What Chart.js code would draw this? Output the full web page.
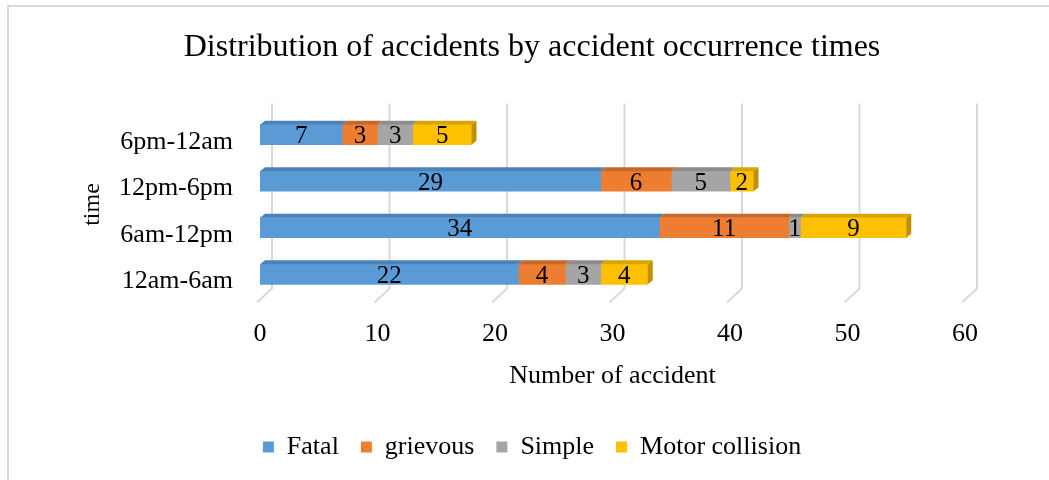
<!DOCTYPE html>
<html>
<head>
<meta charset="utf-8">
<script src="https://cdn.jsdelivr.net/npm/chart.js@4/dist/chart.umd.min.js"></script>
<style>
    html, body { margin: 0; padding: 0; background: #fff; }
    #wrap { position: relative; width: 1049px; height: 480px; overflow: hidden; }
    #frame {
        position: absolute; left: 7px; top: 5px; width: 1100px; height: 500px;
        border-left: 2px solid #d9d9d9; border-top: 2px solid #d9d9d9;
    }
    #chart { position: absolute; left: 0; top: 0; }
</style>
</head>
<body>
<div id="wrap">
    <div id="frame"></div>
    <canvas id="chart" width="1049" height="480"></canvas>
</div>
<script>
// Data
const timeSlots = ['6pm-12am', '12pm-6pm', '6am-12pm', '12am-6am'];
const fatal = [7, 29, 34, 22];
const grievous = [3, 6, 11, 4];
const simple = [3, 5, 1, 3];
const motorCollision = [5, 2, 9, 4];
const xTicks = [0, 10, 20, 30, 40, 50, 60];

const serif = "'Liberation Serif', 'Times New Roman', serif";
Chart.defaults.font.family = serif;
Chart.defaults.color = '#000';

// front / top / side colours for the fake 3D look
const shades = [
    { front: '#5b9bd5', top: '#4a82b9', side: '#3f6f9e' },
    { front: '#ed7d31', top: '#c8672a', side: '#a85622' },
    { front: '#a5a5a5', top: '#8c8c8c', side: '#777777' },
    { front: '#ffc000', top: '#d9a300', side: '#bf9000' }
];

// Back wall gridlines with the floor diagonal
const gridPlugin = {
    id: 'grid3d',
    beforeDatasetsDraw(chart) {
        const { ctx, chartArea, scales } = chart;
        ctx.save();
        ctx.strokeStyle = '#d9d9d9';
        ctx.lineWidth = 2;
        xTicks.forEach(v => {
            const px = scales.x.getPixelForValue(v);
            ctx.beginPath();
            ctx.moveTo(px + 12, chartArea.top - 8);
            ctx.lineTo(px + 12, chartArea.bottom - 9);
            ctx.lineTo(px - 3, chartArea.bottom + 5);
            ctx.stroke();
        });
        ctx.restore();
    }
};

// Top and side faces plus value labels
const faces3d = {
    id: 'faces3d',
    afterDatasetsDraw(chart) {
        const { ctx } = chart;
        const dx = 5, dy = 4;
        const count = chart.data.datasets.length;
        ctx.save();
        chart.data.datasets.forEach((ds, i) => {
            const meta = chart.getDatasetMeta(i);
            meta.data.forEach((bar, j) => {
                const x0 = bar.base, x1 = bar.x;
                const yTop = bar.y - bar.height / 2, yBot = bar.y + bar.height / 2;
                ctx.fillStyle = shades[i].top;
                ctx.beginPath();
                ctx.moveTo(x0, yTop);
                ctx.lineTo(x0 + dx, yTop - dy);
                ctx.lineTo(x1 + dx, yTop - dy);
                ctx.lineTo(x1, yTop);
                ctx.closePath();
                ctx.fill();

                // right side only on the last segment of the stack
                let last = true;
                for (let k = i + 1; k < count; k++) {
                    if (chart.data.datasets[k].data[j] > 0) last = false;
                }
                if (last) {
                    ctx.fillStyle = shades[i].side;
                    ctx.beginPath();
                    ctx.moveTo(x1, yTop);
                    ctx.lineTo(x1 + dx, yTop - dy);
                    ctx.lineTo(x1 + dx, yBot - dy);
                    ctx.lineTo(x1, yBot);
                    ctx.closePath();
                    ctx.fill();
                }
            });
        });

        ctx.fillStyle = '#000';
        ctx.font = '25px ' + serif;
        ctx.textAlign = 'center';
        ctx.textBaseline = 'middle';
        chart.data.datasets.forEach((ds, i) => {
            const meta = chart.getDatasetMeta(i);
            meta.data.forEach((bar, j) => {
                ctx.fillText(String(ds.data[j]), (bar.base + bar.x) / 2, bar.y + 2);
            });
        });
        ctx.restore();
    }
};

const seriesNames = ['Fatal', 'grievous', 'Simple', 'Motor collision'];
const seriesData = [fatal, grievous, simple, motorCollision];

new Chart(document.getElementById('chart'), {
    type: 'bar',
    data: {
        labels: timeSlots,
        datasets: seriesData.map((d, i) => ({
            label: seriesNames[i],
            data: d,
            backgroundColor: shades[i].front,
            borderWidth: 0,
            barThickness: 20
        }))
    },
    options: {
        indexAxis: 'y',
        responsive: false,
        animation: false,
        layout: { padding: { left: 74, right: 59, top: 0, bottom: 10 } },
        scales: {
            x: {
                stacked: true,
                min: 0,
                max: 60,
                ticks: {
                    stepSize: 10,
                    padding: 21,
                    color: '#000',
                    font: { family: serif, size: 26 }
                },
                grid: { display: false, drawTicks: false },
                border: { display: false },
                title: {
                    display: true,
                    text: 'Number of accident',
                    color: '#000',
                    font: { family: serif, size: 26 },
                    padding: { top: -10, bottom: 20 }
                }
            },
            y: {
                stacked: true,
                ticks: {
                    padding: 27,
                    labelOffset: 7,
                    color: '#000',
                    font: { family: serif, size: 26 }
                },
                grid: { display: false, drawTicks: false },
                border: { display: false },
                title: {
                    display: true,
                    text: 'time',
                    color: '#000',
                    font: { family: serif, size: 24 },
                    padding: 4
                },
                afterFit(scale) {
                    scale.width = 186;
                }
            },
            // empty right-hand spacer so the plot ends at 60 where the reference does
            yRight: {
                type: 'category',
                position: 'right',
                ticks: { display: false },
                grid: { display: false, drawTicks: false },
                border: { display: false },
                afterFit(scale) {
                    scale.width = 25;
                }
            }
        },
        plugins: {
            title: {
                display: true,
                text: 'Distribution of accidents by accident occurrence times',
                color: '#000',
                font: { family: serif, size: 32, weight: 'normal' },
                padding: { top: 28, bottom: 45 }
            },
            legend: {
                position: 'bottom',
                labels: {
                    boxWidth: 11,
                    boxHeight: 11,
                    padding: 22,
                    color: '#000',
                    font: { family: serif, size: 26 }
                }
            },
            tooltip: { enabled: false }
        }
    },
    plugins: [gridPlugin, faces3d]
});
</script>
</body>
</html>
